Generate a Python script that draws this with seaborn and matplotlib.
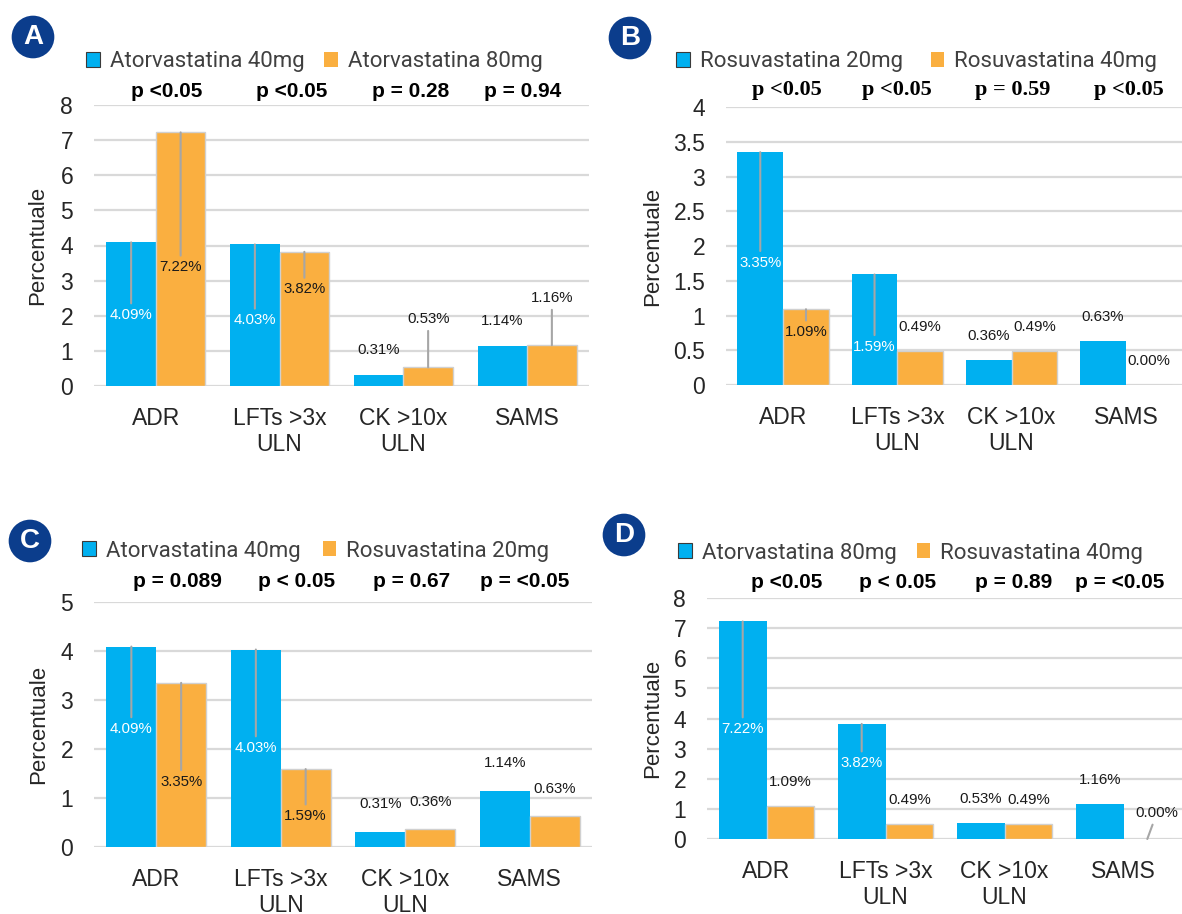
import numpy as np
import pandas as pd
import matplotlib.pyplot as plt
import seaborn as sns
from matplotlib.patches import Patch

categories = ['ADR', 'LFTs >3x\nULN', 'CK >10x\nULN', 'SAMS']

atorva_40 = [4.09, 4.03, 0.31, 1.14]
atorva_80 = [7.22, 3.82, 0.53, 1.16]
rosuva_20 = [3.35, 1.59, 0.36, 0.63]
rosuva_40 = [1.09, 0.49, 0.49, 0.00]

p_A = ['p <0.05', 'p <0.05', 'p = 0.28', 'p = 0.94']
p_B = ['p <0.05', 'p <0.05', 'p = 0.59', 'p <0.05']
p_C = ['p = 0.089', 'p < 0.05', 'p = 0.67', 'p = <0.05']
p_D = ['p <0.05', 'p < 0.05', 'p = 0.89', 'p = <0.05']

# where the value labels sit (data units), and which ones get a leader line
lab_A = [[2.02, 1.87, 1.02, 1.85], [3.38, 2.75, 1.90, 2.50]]
lead_A = [[1, 1, 0, 0], [1, 1, 1, 1]]
lab_B = [[1.76, 0.55, 0.70, 0.98], [0.76, 0.83, 0.83, 0.35]]
lead_B = [[1, 1, 0, 0], [1, 0, 0, 0]]
lab_C = [[2.41, 2.02, 0.88, 1.71], [1.33, 0.63, 0.92, 1.18]]
lead_C = [[1, 1, 0, 0], [1, 1, 0, 0]]
lab_D = [[3.65, 2.52, 1.33, 1.96], [1.90, 1.30, 1.30, 0.86]]
lead_D = [[1, 1, 0, 0], [0, 0, 0, 1]]

BLUE = '#00B0F0'
ORANGE = '#FAAF40'
GRID = '#D9D9D9'
LEAD = '#A6A6A6'
NAVY = '#0B3D8C'
TXT = '#262626'

W, H = 1182, 914

sns.set_style('white')
plt.rcParams['font.family'] = ['Liberation Sans', 'DejaVu Sans']

fig = plt.figure(figsize=(W / 100, H / 100), dpi=100)


def panel(letter, box, names, series, pvals, labs, leads, ymax, ystep,
          badge, leg, colsp, p_off, p_shift, ylab_x, pfont='Liberation Sans',
          pfs=15, lab_dx=None):
    l, t, r, b = box
    ax = fig.add_axes([l / W, 1 - b / H, (r - l) / W, (b - t) / H])

    df = pd.DataFrame({
        'cat': categories * 2,
        'grp': [names[0]] * 4 + [names[1]] * 4,
        'val': list(series[0]) + list(series[1]),
    })
    sns.barplot(data=df, x='cat', y='val', hue='grp', hue_order=names,
                palette=[BLUE, ORANGE], saturation=1, width=0.8,
                errorbar=None, legend=False, linewidth=0, ax=ax)
    for p in ax.containers[1]:
        p.set_edgecolor('#D0D0D0')
        p.set_linewidth(1)

    ax.set_xlim(-0.5, 3.5)
    ax.set_ylim(0, ymax)
    ticks = np.arange(0, ymax + ystep / 2, ystep)
    ax.set_yticks(ticks)
    ax.set_yticklabels([f'{v:g}' for v in ticks])
    ax.tick_params(length=0, labelsize=16.5, colors=TXT)
    ax.tick_params(axis='y', pad=15)
    ax.tick_params(axis='x', pad=15)
    for lab in ax.get_xticklabels():
        lab.set_linespacing(1.15)
    ax.set_xlabel('')
    ax.set_ylabel('Percentuale', fontsize=16, color=TXT)
    ax.yaxis.set_label_coords(ylab_x, 0.5)
    ax.grid(axis='y', color=GRID, lw=1.6)
    ax.set_axisbelow(True)
    sns.despine(ax=ax, left=True, bottom=True)

    # value labels
    for i, cont in enumerate(ax.containers):
        for j, bar in enumerate(cont):
            cx = bar.get_x() + bar.get_width() / 2
            v = bar.get_height()
            ly = labs[i][j]
            dx = lab_dx[i][j] if lab_dx else 0
            col = 'white' if (i == 0 and ly < v) else '#1a1a1a'
            txt = f'{v:.2f}%'
            if leads[i][j]:
                ax.annotate(txt, xy=(cx, v), xytext=(cx + dx, ly),
                            ha='center', va='center', fontsize=10.8, color=col,
                            arrowprops=dict(arrowstyle='-', color=LEAD, lw=1.5,
                                            shrinkA=1, shrinkB=0))
            else:
                ax.text(cx + dx, ly, txt, ha='center', va='center',
                        fontsize=10.8, color=col)

    # p values above each group
    for j, s in enumerate(pvals):
        ax.annotate(s, xy=(j + p_shift[j], 1), xycoords=ax.get_xaxis_transform(),
                    xytext=(0, p_off), textcoords='offset points',
                    ha='center', va='center', fontsize=pfs, fontweight='bold',
                    family=pfont, color='black', annotation_clip=False)

    handles = [Patch(facecolor=BLUE, edgecolor='#3a3a3a', lw=0.8),
               Patch(facecolor=ORANGE, edgecolor='none')]
    fig.legend(handles, names, loc='center left',
               bbox_to_anchor=(leg[0] / W, 1 - leg[1] / H), ncol=2,
               frameon=False, prop={'family': 'Roboto', 'size': 16},
               handlelength=0.62, handleheight=0.62, handletextpad=0.45,
               columnspacing=colsp, borderpad=0, borderaxespad=0,
               labelcolor='#404040')

    fig.text(badge[0] / W, 1 - badge[1] / H, letter, ha='center', va='center',
             color='white', fontsize=20, fontweight='bold',
             bbox=dict(boxstyle='circle,pad=0.3', fc=NAVY, ec='none'))
    return ax


panel('A', (94, 105, 589, 386), ['Atorvastatina 40mg', 'Atorvastatina 80mg'],
      [atorva_40, atorva_80], p_A, lab_A, lead_A, 8, 1,
      badge=(33, 37), leg=(86, 62), colsp=0.9, p_off=9.5,
      p_shift=[0.09, 0.10, 0.06, -0.04], ylab_x=-0.093)

panel('B', (726, 107, 1183, 385), ['Rosuvastatina 20mg', 'Rosuvastatina 40mg'],
      [rosuva_20, rosuva_40], p_B, lab_B, lead_B, 4, 0.5,
      badge=(630, 38), leg=(676, 62), colsp=1.25, p_off=12,
      p_shift=[0.03, 0.0, 0.01, 0.03], ylab_x=-0.138,
      pfont='Liberation Serif', pfs=16)

panel('C', (94, 602, 592, 847), ['Atorvastatina 40mg', 'Rosuvastatina 20mg'],
      [atorva_40, rosuva_20], p_C, lab_C, lead_C, 5, 1,
      badge=(30, 541), leg=(82, 551), colsp=1.0, p_off=15,
      p_shift=[0.17, 0.13, 0.05, -0.04], ylab_x=-0.090)

panel('D', (707, 598, 1183, 839), ['Atorvastatina 80mg', 'Rosuvastatina 40mg'],
      [atorva_80, rosuva_40], p_D, lab_D, lead_D, 8, 1,
      badge=(624, 535), leg=(678, 553), colsp=0.9, p_off=11.5,
      p_shift=[0.17, 0.10, 0.08, -0.03], ylab_x=-0.093,
      lab_dx=[[0, 0, 0, 0], [0, 0, 0, 0.08]])

fig.savefig('out.png', dpi=100)
